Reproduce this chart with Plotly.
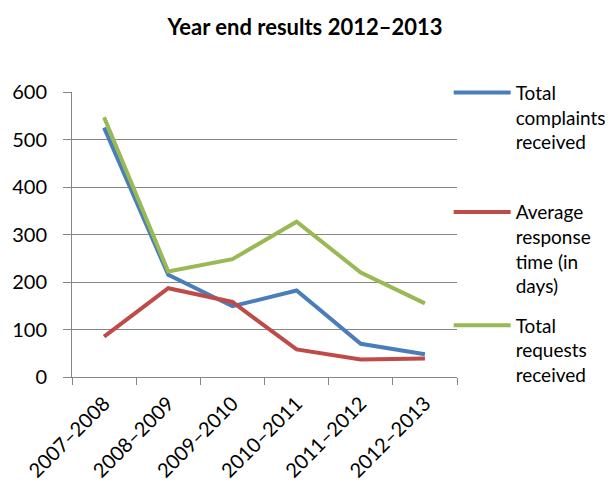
import plotly.graph_objects as go

categories = ["2007–2008", "2008–2009", "2009–2010", "2010–2011", "2011–2012", "2012–2013"]
complaints = [525, 215, 149, 182, 70, 48]
response_days = [85, 187, 158, 58, 37, 39]
requests = [547, 222, 248, 327, 220, 155]

names = ["Total<br>complaints<br>received", "Average<br>response<br>time (in<br>days)", "Total<br>requests<br>received"]
colors = ["#4A7EBB", "#BE4B48", "#98B954"]
series = [complaints, response_days, requests]
legend_ids = ["legend", "legend2", "legend3"]
legend_tops = [0.848, 0.601, 0.367]

FONT = "Lato"
fig = go.Figure()
for s, n, c, lg in zip(series, names, colors, legend_ids):
    fig.add_trace(go.Scatter(x=categories, y=s, name=n, mode="lines",
                             line=dict(color=c, width=4), legend=lg))

common_legend = dict(xref="container", yref="container", x=0.7355, xanchor="left",
                     yanchor="top", valign="top", itemwidth=57,
                     font=dict(family=FONT, size=19, color="#000"),
                     bgcolor="rgba(0,0,0,0)", tracegroupgap=0)
fig.update_layout(
    width=610, height=484,
    margin=dict(l=72, r=153, t=92, b=107, autoexpand=False),
    paper_bgcolor="white", plot_bgcolor="white",
    font=dict(family=FONT, size=19, color="#000"),
    title=dict(text="<b>Year end results 2012–2013</b>", x=0.5, xanchor="center",
               y=0.944, yanchor="middle", font=dict(family=FONT, size=22, color="#000")),
    legend=dict(common_legend, y=legend_tops[0]),
    legend2=dict(common_legend, y=legend_tops[1]),
    legend3=dict(common_legend, y=legend_tops[2]),
    showlegend=True,
)
fig.update_yaxes(range=[0, 600], dtick=100, showgrid=True, gridcolor="#868686", gridwidth=1,
                 showline=True, linecolor="#868686", linewidth=1, automargin=False,
                 ticks="outside", ticklen=8, tickcolor="#868686", zeroline=False,
                 ticklabelstandoff=12,
                 tickfont=dict(family=FONT, size=20, color="#000"))
fig.update_xaxes(showgrid=False, showline=True, linecolor="#868686", linewidth=1,
                 range=[-0.5, 5.5], automargin=False,
                 ticks="outside", ticklen=7, tickcolor="#868686", tickson="boundaries",
                 ticklabelstandoff=6,
                 tickangle=-45, tickfont=dict(family=FONT, size=20, color="#000"))

fig.write_html("out.html")
